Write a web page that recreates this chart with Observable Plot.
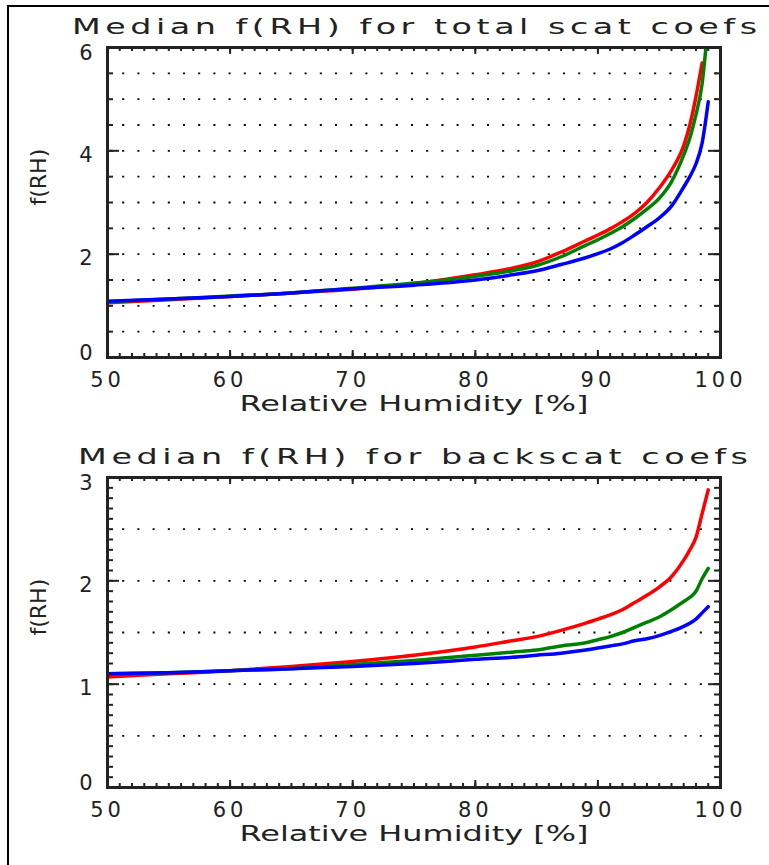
<!DOCTYPE html>
<html><head><meta charset="utf-8">
<script src="https://cdn.jsdelivr.net/npm/d3@7"></script>
<script src="https://cdn.jsdelivr.net/npm/@observablehq/plot@0.6"></script>
<style>
body{margin:0;background:#fff;width:769px;height:865px;overflow:hidden;position:relative;font-family:"DejaVu Sans",sans-serif;}
#border{position:absolute;left:7px;top:5px;width:800px;height:900px;border-left:2px solid #000;border-top:2px solid #000;box-sizing:border-box;}
.panel{position:absolute;left:0;}
.title{position:absolute;font-size:22px;line-height:22px;white-space:nowrap;color:#222;transform-origin:0 50%;}
.panel svg text{fill:#222;}
</style></head><body>
<div id="border"></div>
<div class="panel" id="p1" style="top:0px"></div>
<div class="panel" id="p2" style="top:430px"></div>
<div class="title" id="t1" style="left:72px;top:16px">Median f(RH) for total scat coefs</div>
<div class="title" id="t2" style="left:78px;top:446px">Median f(RH) for backscat coefs</div>
<script>
// Relative humidity grid (%)
const rh = [50,55,60,65,70,75,80,83,85,87,89,90,91,92,93,94,95,96,97,97.5,98,98.5,99];
// Top panel: total scattering f(RH)
const totalRed   = [1.06,1.12,1.18,1.25,1.32,1.43,1.60,1.73,1.85,2.04,2.26,2.37,2.49,2.63,2.79,3.00,3.28,3.62,4.10,4.50,5.05,5.70,null];
const totalGreen = [1.08,1.13,1.19,1.25,1.34,1.44,1.57,1.68,1.78,1.95,2.17,2.28,2.40,2.53,2.69,2.87,3.08,3.40,3.92,4.25,4.70,5.30,6.50];
const totalBlue  = [1.09,1.13,1.18,1.25,1.33,1.40,1.50,1.60,1.68,1.80,1.93,2.01,2.10,2.22,2.37,2.53,2.70,2.93,3.30,3.50,3.75,4.15,4.95];
// Bottom panel: backscattering f(RH)
const backRed    = [1.07,1.10,1.13,1.17,1.22,1.28,1.36,1.42,1.46,1.52,1.59,1.63,1.67,1.72,1.79,1.86,1.94,2.04,2.20,2.30,2.42,2.65,2.88];
const backGreen  = [1.10,1.11,1.13,1.15,1.19,1.23,1.28,1.31,1.33,1.37,1.40,1.43,1.46,1.50,1.55,1.60,1.65,1.72,1.80,1.84,1.90,2.02,2.12];
const backBlue   = [1.10,1.11,1.13,1.15,1.17,1.20,1.24,1.26,1.28,1.30,1.33,1.35,1.37,1.39,1.42,1.44,1.47,1.51,1.56,1.59,1.63,1.69,1.75];

const seriesNames = ["red","green","blue"];
const seriesColors = ["#ff0000","#00a000","#0000ff"];

const xTickLabels = [50,60,70,80,90,100];
const xMinorTicks = d3.range(50,100.001,1);
const topYLabels = [0,2,4,6];
const topYMinor = d3.range(0,6.001,0.5);
const topGrid = [0.5,1,1.5,2,2.5,3,3.5,4,4.5,5,5.5];
const botYLabels = [0,1,2,3];
const botYMinor = d3.range(0,3.001,0.1).map(v=>+v.toFixed(1));
const botGrid = [0.5,1,1.5,2,2.5];

function makeData(r,g,b){
  const out=[];
  [r,g,b].forEach((arr,k)=>arr.forEach((v,i)=>{ if(v!=null) out.push({rh:rh[i], v, s:seriesNames[k]}); }));
  return out;
}

function panel({red,green,blue,yMax,yLabels,yMinor,grid,height,marginBottom}){
  const mL=107, mR=49, mT=47;
  const W=769-mL-mR, H=height-mT-marginBottom;
  const xMaj=7, xMin=4, yMaj=12, yMin=6;
  const yTop=yLabels[yLabels.length-1], yBot=yLabels[0];
  const yMid=yLabels.slice(1,-1);
  const ax = {tickSize:0, tickPadding:11, label:null, tickFormat:d=>String(d), fontSize:21};
  return Plot.plot({
    width:769, height, marginLeft:mL, marginRight:mR, marginTop:mT, marginBottom,
    x:{domain:[50,100]}, y:{domain:[0,yMax]},
    color:{domain:seriesNames, range:seriesColors},
    style:{fontFamily:"DejaVu Sans", fontSize:"21px", background:"transparent", color:"#222"},
    marks:[
      Plot.ruleY(grid,{y:d=>d, stroke:"#000", strokeWidth:1.8, strokeDasharray:"2,13.2"}),
      Plot.line(makeData(red,green,blue),{x:"rh", y:"v", z:"s", stroke:"s", strokeWidth:3.5, clip:true, curve:"monotone-x"}),
      // x minor & major ticks, bottom and top (inward)
      Plot.tickX(xMinorTicks,{x:d=>d, insetTop:H-xMin, strokeWidth:2}),
      Plot.tickX(xMinorTicks,{x:d=>d, insetBottom:H-xMin, strokeWidth:2}),
      Plot.tickX(xTickLabels,{x:d=>d, insetTop:H-xMaj, strokeWidth:2}),
      Plot.tickX(xTickLabels,{x:d=>d, insetBottom:H-xMaj, strokeWidth:2}),
      // y minor & major ticks, left and right
      Plot.tickY(yMinor,{y:d=>d, insetRight:W-yMin, strokeWidth:2}),
      Plot.tickY(yMinor,{y:d=>d, insetLeft:W-yMin, strokeWidth:2}),
      Plot.tickY(yLabels,{y:d=>d, insetRight:W-yMaj, strokeWidth:2}),
      Plot.tickY(yLabels,{y:d=>d, insetLeft:W-yMaj, strokeWidth:2}),
      Plot.frame({strokeWidth:3}),
      Plot.axisX({ticks:xTickLabels, tickSize:0, tickPadding:15, label:null, tickFormat:d=>String(d), fontSize:21}),
      Plot.axisY({...ax, ticks:[yTop], dy:6}),
      Plot.axisY({...ax, ticks:yMid, dy:4}),
      Plot.axisY({...ax, ticks:[yBot], dy:-4}),
      Plot.text(["Relative Humidity [%]"],{frameAnchor:"bottom", dy:53, text:d=>d, fontSize:21}),
      Plot.text(["f(RH)"],{frameAnchor:"left", dx:-69, dy:3, rotate:-90, text:d=>d, fontSize:22})
    ]
  });
}

const svg1 = panel({red:totalRed, green:totalGreen, blue:totalBlue, yMax:6, yLabels:topYLabels, yMinor:topYMinor, grid:topGrid, height:420, marginBottom:63});
const svg2 = panel({red:backRed, green:backGreen, blue:backBlue, yMax:3, yLabels:botYLabels, yMinor:botYMinor, grid:botGrid, height:430, marginBottom:73});
document.getElementById("p1").appendChild(svg1);
document.getElementById("p2").appendChild(svg2);

// widen text spacing to mimic the wide plotting font
for (const svg of [svg1,svg2]) {
  svg.querySelectorAll("g[aria-label='x-axis tick label'] text, g[aria-label='y-axis tick label'] text").forEach(t=>t.style.letterSpacing="4px");
  svg.querySelectorAll("g[aria-label='text'] text").forEach(t=>{
    if (t.textContent.startsWith("Relative")) { t.setAttribute("textLength","349"); t.setAttribute("lengthAdjust","spacingAndGlyphs"); }
  });
}
function fit(id, target){
  const el=document.getElementById(id);
  el.style.letterSpacing="3px";
  const w=el.getBoundingClientRect().width - 3;
  el.style.transform="scaleX("+(target/w)+")";
}
fit("t1",685);
fit("t2",670);
</script>
</body></html>
